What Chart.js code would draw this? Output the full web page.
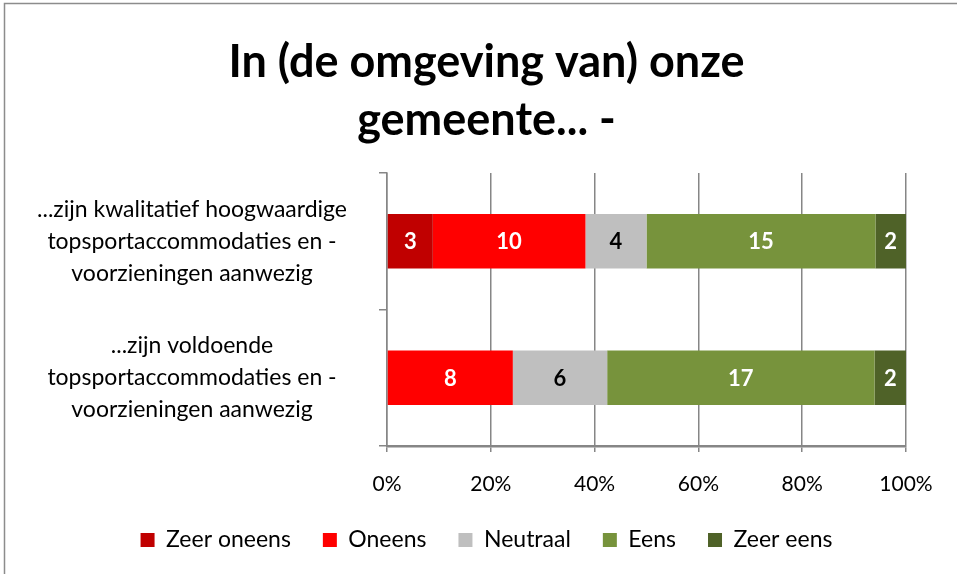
<!DOCTYPE html>
<html>
<head>
<meta charset="utf-8">
<script src="https://cdn.jsdelivr.net/npm/chart.js@4"></script>
<style>
    body { margin: 0; background: #fff; }
    #chart { display: block; }
</style>
</head>
<body>
<canvas id="chart" width="957" height="574"></canvas>
<script>
// ------------------ Data ------------------
const categories = [
    ['...zijn kwalitatief hoogwaardige', 'topsportaccommodaties en -', 'voorzieningen aanwezig'],
    ['...zijn voldoende', 'topsportaccommodaties en -', 'voorzieningen aanwezig']
];
const seriesNames = ['Zeer oneens', 'Oneens', 'Neutraal', 'Eens', 'Zeer eens'];
const zeerOneens = [3, 0];
const oneens = [10, 8];
const neutraal = [4, 6];
const eens = [15, 17];
const zeerEens = [2, 2];
const xTicks = [0, 20, 40, 60, 80, 100];

// ------------------ Styles ------------------
const colors = ['#C00000', '#FF0000', '#BFBFBF', '#77933C', '#4F6228'];
const labelColors = ['#fff', '#fff', '#000', '#fff', '#fff'];
const gridColor = '#868686';
const fontFamily = 'Lato, "Liberation Sans", sans-serif';

const counts = [zeerOneens, oneens, neutraal, eens, zeerEens];
const totals = categories.map(function(c, i) {
    return counts.reduce(function(sum, s) { return sum + s[i]; }, 0);
});

const datasets = counts.map(function(values, k) {
    return {
        label: seriesNames[k],
        data: values.map(function(v, i) { return v / totals[i] * 100; }),
        counts: values,
        backgroundColor: colors[k],
        borderWidth: 0,
        barPercentage: 0.4,
        categoryPercentage: 1
    };
});

// ------------------ Plugins ------------------
const frame = {
    id: 'frame',
    beforeDraw: function(chart) {
        const ctx = chart.ctx;
        ctx.save();
        ctx.strokeStyle = '#8c8c8c';
        ctx.lineWidth = 1.5;
        ctx.beginPath();
        ctx.moveTo(4.5, 574);
        ctx.lineTo(4.5, 3.5);
        ctx.lineTo(957, 3.5);
        ctx.stroke();
        ctx.restore();
    }
};

const barValues = {
    id: 'barValues',
    afterDatasetsDraw: function(chart) {
        const ctx = chart.ctx;
        ctx.save();
        ctx.font = 'bold 22px ' + fontFamily;
        ctx.textAlign = 'center';
        ctx.textBaseline = 'middle';
        chart.data.datasets.forEach(function(ds, k) {
            chart.getDatasetMeta(k).data.forEach(function(bar, i) {
                if (!ds.counts[i]) return;
                ctx.fillStyle = labelColors[k];
                ctx.fillText(ds.counts[i], (bar.x + bar.base) / 2, bar.y + 1);
            });
        });
        ctx.restore();
    }
};

// ------------------ Chart ------------------
new Chart(document.getElementById('chart'), {
    type: 'bar',
    data: { labels: categories, datasets: datasets },
    options: {
        indexAxis: 'y',
        responsive: false,
        animation: false,
        layout: { padding: { left: 16, right: 0, top: 0, bottom: 12.5 } },
        scales: {
            x: {
                stacked: true,
                min: 0,
                max: 100,
                afterBuildTicks: function(s) {
                    s.ticks = xTicks.map(function(v) { return { value: v }; });
                },
                afterFit: function(s) {
                    s.paddingRight = 51;
                    s.height = 50.5;
                },
                ticks: {
                    padding: 20,
                    color: '#000',
                    font: { family: fontFamily, size: 21 },
                    callback: function(v) { return v + '%'; }
                },
                grid: { color: gridColor, lineWidth: 1.5, tickLength: 6 },
                border: { color: gridColor, width: 2.5 }
            },
            y: {
                stacked: true,
                afterFit: function(s) { s.width = 371; },
                ticks: {
                    crossAlign: 'center',
                    padding: 32,
                    color: '#000',
                    font: { family: fontFamily, size: 23, lineHeight: 1.4 }
                },
                grid: {
                    offset: true,
                    drawOnChartArea: false,
                    color: gridColor,
                    lineWidth: 1.5,
                    tickLength: 8
                },
                border: { color: gridColor, width: 1.5 }
            }
        },
        plugins: {
            title: {
                display: true,
                text: ['In (de omgeving van) onze', 'gemeente... -'],
                color: '#000',
                font: { family: fontFamily, size: 45, weight: 'bold', lineHeight: 1.29 },
                padding: { top: 33, bottom: 24 }
            },
            legend: {
                position: 'bottom',
                labels: {
                    boxWidth: 14,
                    boxHeight: 14,
                    padding: 32,
                    color: '#000',
                    font: { family: fontFamily, size: 23 }
                }
            },
            tooltip: { enabled: false }
        }
    },
    plugins: [frame, barValues]
});
</script>
</body>
</html>
